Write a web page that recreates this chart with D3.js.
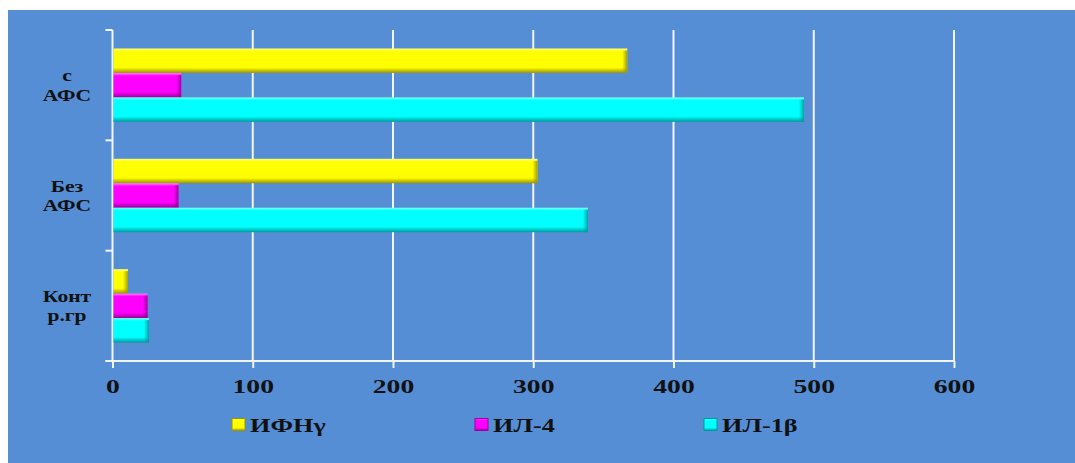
<!DOCTYPE html>
<html>
<head>
<meta charset="utf-8">
<script src="https://cdn.jsdelivr.net/npm/d3@7"></script>
<style>
html,body{margin:0;padding:0;background:#fff;}
svg{display:block;}
</style>
</head>
<body>
<svg id="chart" width="1075" height="463"></svg>
<script>
// Data
const categories = [["с","АФС"],["Без","АФС"],["Конт","р.гр"]];
const seriesNames = ["ИФНγ","ИЛ-4","ИЛ-1β"];
const ifn = [367, 303, 11];
const il4 = [49, 47, 25];
const il1b = [493, 339, 26];
const xTicks = [0,100,200,300,400,500,600];

const colors = ["#FFFF00","#FF00FF","#00FFFF"];
const darks  = ["#9C9400","#9A009A","#009A9C"];
const lights = ["#FFFF80","#FF80FF","#80FFFF"];
const seriesValues = [ifn, il4, il1b];

const FONT = '"Liberation Serif"';
const STRETCH = 1.42;
function txt(sel, size){
  return sel.style("font-family",FONT).style("font-weight","bold").style("font-size",size+"px").style("fill","#111");
}

const svg = d3.select("#chart");
const W = 1075, H = 463;
const bg = "#558ED5";
svg.append("rect").attr("x",8).attr("y",10).attr("width",W-8).attr("height",H-10).attr("fill",bg);

const plot = {left:112.5, right:954, top:30, bottom:361};
const x = d3.scaleLinear().domain([0,600]).range([plot.left, plot.right]);
const catIdx = categories.map((c,i)=>i);
const y = d3.scaleBand().domain(catIdx).range([plot.top, plot.bottom]).paddingInner(0.335).paddingOuter(0.1675);
const ys = d3.scaleBand().domain([0,1,2]).range([0, y.bandwidth()]);

const defs = svg.append("defs");
colors.forEach((c,i)=>{
  const g = defs.append("linearGradient").attr("id","gv"+i).attr("x1",0).attr("y1",0).attr("x2",0).attr("y2",1);
  g.append("stop").attr("offset","0%").attr("stop-color",lights[i]);
  g.append("stop").attr("offset","12%").attr("stop-color",c);
  g.append("stop").attr("offset","78%").attr("stop-color",c);
  g.append("stop").attr("offset","100%").attr("stop-color",darks[i]);
  const h = defs.append("linearGradient").attr("id","gh"+i).attr("x1",0).attr("y1",0).attr("x2",1).attr("y2",0);
  h.append("stop").attr("offset","0%").attr("stop-color",darks[i]).attr("stop-opacity",0);
  h.append("stop").attr("offset","100%").attr("stop-color",darks[i]).attr("stop-opacity",0.9);
});

// gridlines
const grid = svg.append("g");
grid.selectAll("line").data(xTicks.slice(1)).join("line")
  .attr("x1",d=>x(d)).attr("x2",d=>x(d)).attr("y1",plot.top).attr("y2",plot.bottom)
  .attr("stroke","#F2F5FA").attr("stroke-width",2);

// x axis
const xAxis = d3.axisBottom(x).tickValues(xTicks).tickSize(7).tickPadding(0).tickFormat(d3.format("d"));
const gx = svg.append("g").attr("transform",`translate(0,${plot.bottom})`).call(xAxis);
gx.select(".domain").attr("stroke","#F2F5FA").attr("stroke-width",2).attr("d",`M${plot.left-7},0H${plot.right}`);
gx.selectAll(".tick line").attr("stroke","#F2F5FA").attr("stroke-width",2);
txt(gx.selectAll(".tick text"), 19.5).attr("y",0).attr("dy",0)
  .attr("transform",`translate(0,32) scale(${STRETCH},1)`);

// y axis
const bounds = catIdx.map(i=>y(i)-y.step()*0.1675).concat([plot.bottom]);
const gy = svg.append("g");
gy.append("line").attr("x1",plot.left).attr("x2",plot.left).attr("y1",plot.top).attr("y2",plot.bottom)
  .attr("stroke","#F2F5FA").attr("stroke-width",2);
gy.selectAll("line.tk").data(bounds).join("line").attr("class","tk")
  .attr("x1",plot.left-7).attr("x2",plot.left).attr("y1",d=>d).attr("y2",d=>d)
  .attr("stroke","#F2F5FA").attr("stroke-width",2);

// category labels
const lab = svg.append("g");
catIdx.forEach(i=>{
  const cy = y(i)+y.bandwidth()/2;
  const g = lab.append("g").attr("transform",`translate(67,${cy-4})`);
  const t = txt(g.append("text"), 16).attr("text-anchor","middle").attr("transform",`scale(${STRETCH*0.95},1)`);
  t.append("tspan").attr("x",0).attr("y",0).text(categories[i][0]);
  t.append("tspan").attr("x",0).attr("y",19.5).text(categories[i][1]);
});

// bars
const bars = svg.append("g");
seriesValues.forEach((vals,s)=>{
  const g = bars.append("g");
  g.selectAll("rect.b").data(vals).join("rect").attr("class","b")
    .attr("x",x(0)+1).attr("y",(d,i)=>y(i)+ys(s))
    .attr("width",d=>x(d)-x(0)-1).attr("height",ys.bandwidth())
    .attr("fill",`url(#gv${s})`);
  g.selectAll("rect.e").data(vals).join("rect").attr("class","e")
    .attr("x",d=>x(d)-5).attr("y",(d,i)=>y(i)+ys(s)+2)
    .attr("width",5).attr("height",ys.bandwidth()-2)
    .attr("fill",`url(#gh${s})`);
});

// legend
const legX = [232, 475, 704];
const leg = svg.append("g");
seriesNames.forEach((n,s)=>{
  leg.append("rect").attr("x",legX[s]).attr("y",418.5).attr("width",13).attr("height",12)
    .attr("fill",`url(#gv${s})`).attr("stroke",darks[s]).attr("stroke-width",1);
  const g = leg.append("g").attr("transform",`translate(${legX[s]+18},431.5)`);
  txt(g.append("text"), 18.5).attr("transform",`scale(${STRETCH},1)`).text(n);
});
</script>
</body>
</html>
